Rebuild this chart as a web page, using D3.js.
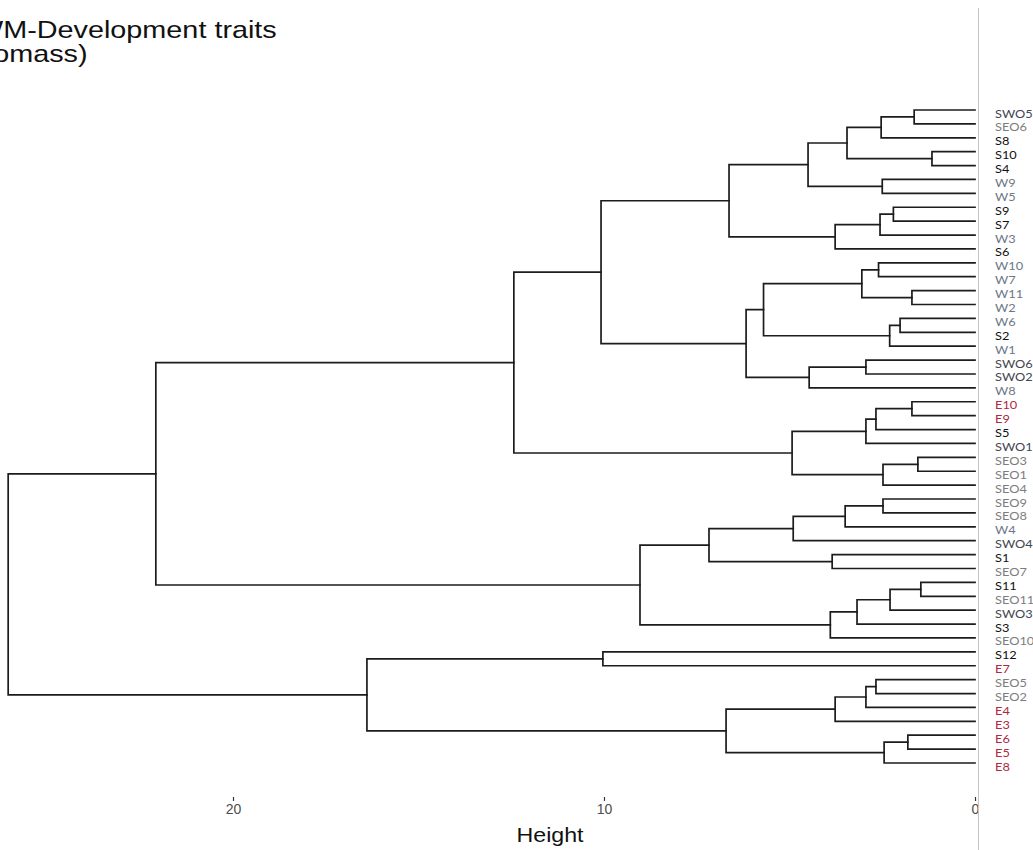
<!DOCTYPE html>
<html>
<head>
<meta charset="utf-8">
<script src="https://cdn.jsdelivr.net/npm/d3@7"></script>
<style>
  html, body { margin: 0; padding: 0; background: #ffffff; }
  svg { display: block; }
</style>
</head>
<body>
<svg id="chart" width="1033" height="850"></svg>
<script>
// Leaf labels, top to bottom
const leaves = ["SWO5","SEO6","S8","S10","S4","W9","W5","S9","S7","W3","S6",
  "W10","W7","W11","W2","W6","S2","W1","SWO6","SWO2","W8",
  "E10","E9","S5","SWO1","SEO3","SEO1","SEO4",
  "SEO9","SEO8","W4","SWO4","S1","SEO7","S11","SEO11","SWO3","S3","SEO10",
  "S12","E7","SEO5","SEO2","E4","E3","E6","E5","E8"];

// Agglomeration steps: a number refers to an earlier step (1-based), a string to a leaf
const mergePairs = [
  ["SWO5","SEO6"], [1,"S8"], ["S10","S4"], [2,3], ["W9","W5"], [4,5],
  ["S9","S7"], [7,"W3"], [8,"S6"], [6,9],
  ["W10","W7"], ["W11","W2"], [11,12], ["W6","S2"], [14,"W1"], [13,15],
  ["SWO6","SWO2"], [17,"W8"], [16,18], [10,19],
  ["E10","E9"], [21,"S5"], [22,"SWO1"], ["SEO3","SEO1"], [24,"SEO4"], [23,25],
  [20,26],
  ["SEO9","SEO8"], [28,"W4"], [29,"SWO4"], ["S1","SEO7"], [30,31],
  ["S11","SEO11"], [33,"SWO3"], [34,"S3"], [35,"SEO10"], [32,36],
  [27,37],
  ["S12","E7"], ["SEO5","SEO2"], [40,"E4"], [41,"E3"], ["E6","E5"], [43,"E8"],
  [42,44], [39,45],
  [38,46]
];
const mergeHeights = [
  1.64, 2.53, 1.16, 3.45, 2.50, 4.50,
  2.20, 2.56, 3.77, 6.63,
  2.60, 1.70, 3.05, 2.02, 2.30, 5.70,
  2.94, 4.47, 6.17, 10.08,
  1.70, 2.67, 2.94, 1.54, 2.48, 4.93,
  12.43,
  2.48, 3.50, 4.90, 3.85, 7.17,
  1.46, 2.29, 3.18, 3.90, 9.03,
  22.08,
  10.03, 2.67, 2.94, 3.77, 1.81, 2.45,
  6.71, 16.39,
  26.06
];

// Axis ticks
const tickValues = [0, 10, 20];

// Label colour by sample group
const groupOrder = ["SWO", "SEO", "S", "W", "E"];
const groupColors = ["#45454f", "#7d7d7d", "#111111", "#6c7888", "#b0283f"];

// Build the tree from the merge steps
const steps = [];
mergePairs.forEach((pair, i) => {
  const kids = pair.map(p => typeof p === "number" ? steps[p - 1] : { name: p, height: 0 });
  steps.push({ height: mergeHeights[i], children: kids });
});
const root = d3.hierarchy(steps[steps.length - 1]);

const svg = d3.select("#chart");

const x = d3.scaleLinear().domain([0, 20]).range([975, 233]);
const y = d3.scalePoint().domain(leaves).range([110, 763]);

// Leaf positions from the label order, inner nodes centred between their children
root.eachAfter(d => {
  d.px = x(d.data.height);
  d.py = d.children ? d3.mean(d.children, c => c.py) : y(d.data.name);
});

// Elbow connectors
const links = root.descendants().filter(d => d.children);
svg.append("g")
  .attr("fill", "none")
  .attr("stroke", "#1c1c1c")
  .attr("stroke-width", 1.7)
  .attr("stroke-linecap", "square")
  .selectAll("path")
  .data(links)
  .join("path")
  .attr("d", d => {
    const [a, b] = d.children;
    return `M${a.px},${a.py}H${d.px}V${b.py}H${b.px}`;
  });

// Leaf labels
const colorOf = name => {
  const g = groupOrder.find(p => name.startsWith(p));
  return groupColors[groupOrder.indexOf(g)];
};
svg.append("g")
  .selectAll("text")
  .data(leaves)
  .join("text")
  .attr("transform", d => `translate(995,${y(d) + 7.5}) scale(1.22,1)`)
  .attr("font-family", "Lato, 'Open Sans', sans-serif")
  .attr("font-size", 10.5)
  .attr("fill", d => colorOf(d))
  .text(d => d);

// Panel edge
svg.append("line")
  .attr("x1", 978.5).attr("x2", 978.5)
  .attr("y1", 8).attr("y2", 850)
  .attr("stroke", "#c4c4c4")
  .attr("stroke-width", 1);

// Height axis
svg.append("defs").append("clipPath").attr("id", "axisClip")
  .append("rect").attr("x", 0).attr("y", 780).attr("width", 978).attr("height", 70);

const axis = svg.append("g")
  .attr("clip-path", "url(#axisClip)")
  .append("g")
  .attr("transform", "translate(0,797)")
  .call(d3.axisBottom(x).tickValues(tickValues).tickSize(4).tickPadding(3).tickFormat(d3.format("d")));
axis.select(".domain").remove();
axis.selectAll(".tick line").attr("stroke", "#333333").attr("stroke-width", 1.2);
axis.selectAll(".tick text")
  .attr("fill", "#4d4d4d")
  .attr("font-family", "'Liberation Sans', Arial, sans-serif")
  .attr("font-size", 14);

svg.append("text")
  .attr("transform", "translate(550,842) scale(1.16,1)")
  .attr("text-anchor", "middle")
  .attr("font-family", "'Liberation Sans', Arial, sans-serif")
  .attr("font-size", 20)
  .attr("fill", "#111111")
  .text("Height");

// Title
const title = svg.append("g")
  .attr("font-family", "'Liberation Sans', Arial, sans-serif")
  .attr("font-size", 24)
  .attr("fill", "#111111");
title.append("text")
  .attr("transform", "translate(-24,38) scale(1.2,1)")
  .text("WM-Development traits");
title.append("text")
  .attr("transform", "translate(-42,62) scale(1.2,1)")
  .text("(Biomass)");
</script>
</body>
</html>
